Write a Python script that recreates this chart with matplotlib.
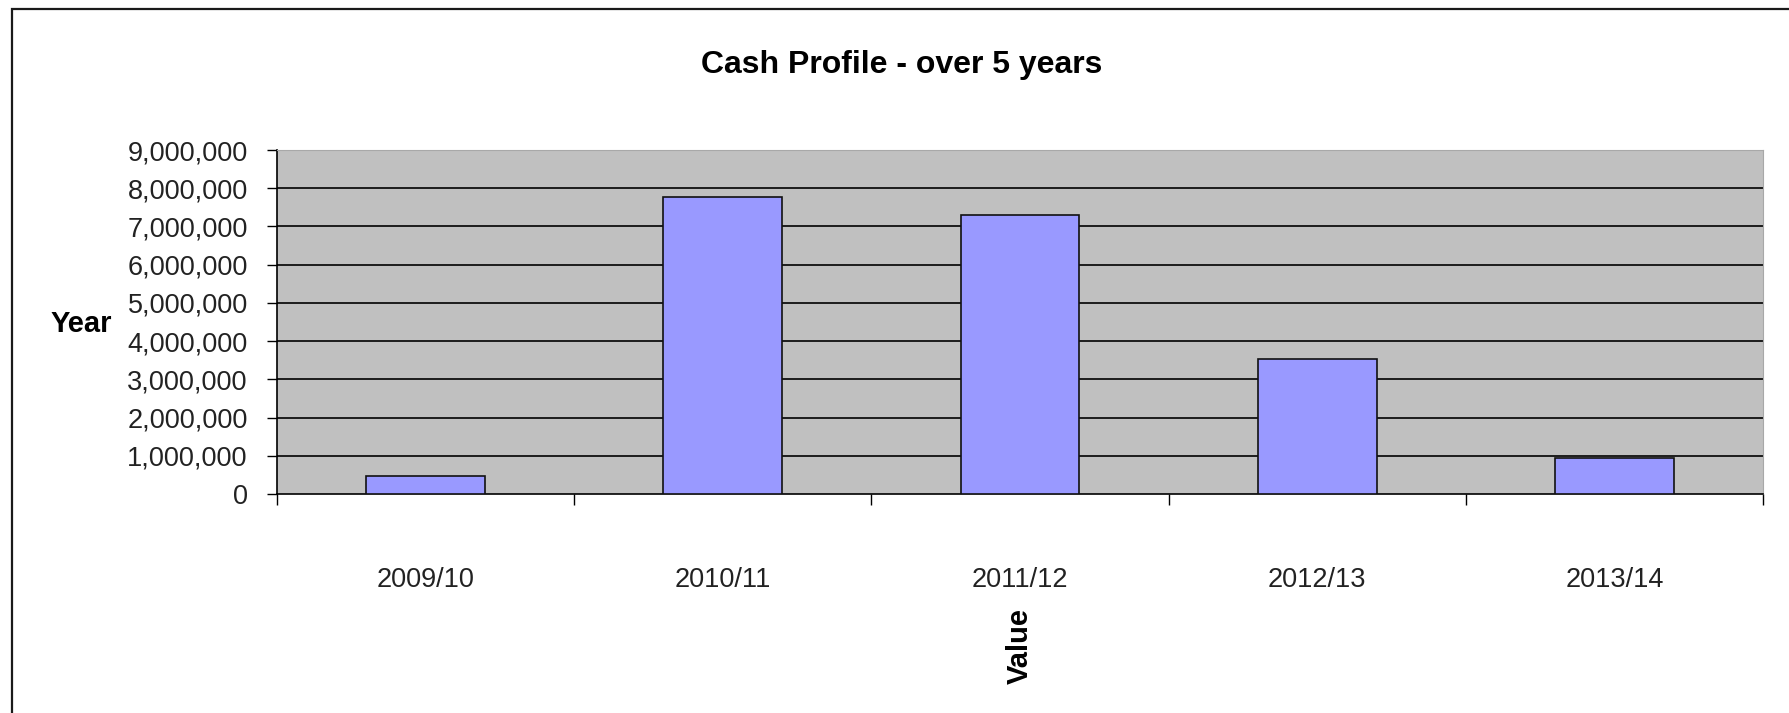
import matplotlib.pyplot as plt
import numpy as np
from matplotlib.patches import Rectangle

plt.rcParams['font.family'] = ['Liberation Sans', 'DejaVu Sans']

# data
years = ['2009/10', '2010/11', '2011/12', '2012/13', '2013/14']
cash = [465000, 7780000, 7310000, 3520000, 950000]
y_ticks = [0, 1000000, 2000000, 3000000, 4000000, 5000000,
           6000000, 7000000, 8000000, 9000000]

W, H = 1789, 713
fig = plt.figure(figsize=(W / 100, H / 100), dpi=100)
ax = fig.add_axes([277 / W, 1 - 494 / H, (1763 - 277) / W, (494 - 150) / H])

x = np.arange(len(years))
ax.set_facecolor('#C0C0C0')

# horizontal gridlines (black), not on the top edge
for v in y_ticks[1:-1]:
    ax.axhline(v, color='black', lw=1.2, zorder=1)

ax.bar(x, cash, width=0.4, color='#9999FF', edgecolor='#111111',
       linewidth=1.2, zorder=3)

ax.set_xlim(-0.5, len(years) - 0.5)
ax.set_ylim(y_ticks[0], y_ticks[-1])

ax.set_yticks(y_ticks)
ax.set_yticklabels(['{:,}'.format(v) for v in y_ticks])
ax.tick_params(axis='y', direction='out', length=7.5, width=1.0,
               pad=13.5, labelsize=19.5, labelcolor='#222222')

# category boundary ticks, labels at the centres
ax.set_xticks(np.arange(len(years) + 1) - 0.5)
ax.set_xticklabels([])
ax.tick_params(axis='x', which='major', direction='out', length=8, width=1.0)
ax.set_xticks(x, minor=True)
ax.set_xticklabels(years, minor=True)
ax.tick_params(axis='x', which='minor', length=0, pad=52.5,
               labelsize=19.5, labelcolor='#222222')

ax.spines['left'].set_color('black')
ax.spines['bottom'].set_color('black')
ax.spines['left'].set_linewidth(1.2)
ax.spines['bottom'].set_linewidth(1.2)
ax.spines['top'].set_color('#A8A8A8')
ax.spines['right'].set_color('#A8A8A8')
ax.spines['top'].set_linewidth(0.8)
ax.spines['right'].set_linewidth(0.8)

fig.text(902 / W, 1 - 73 / H, 'Cash Profile - over 5 years',
         fontsize=23, fontweight='bold', ha='center', va='baseline')
fig.text(81 / W, 1 - 332 / H, 'Year', fontsize=21, fontweight='bold',
         ha='center', va='baseline')
fig.text(1020 / W, 1 - 646 / H, 'Value', fontsize=21, fontweight='bold',
         rotation=90, ha='center', va='center')

# outer chart border (only left and top sides fall inside the picture)
fig.add_artist(Rectangle((12 / W, -0.1), 1.2, 1.1 - 9 / H, fill=False,
                         edgecolor='#1a1a1a', linewidth=1.6,
                         transform=fig.transFigure, clip_on=False))

fig.savefig('out.png', dpi=100, facecolor='white')
